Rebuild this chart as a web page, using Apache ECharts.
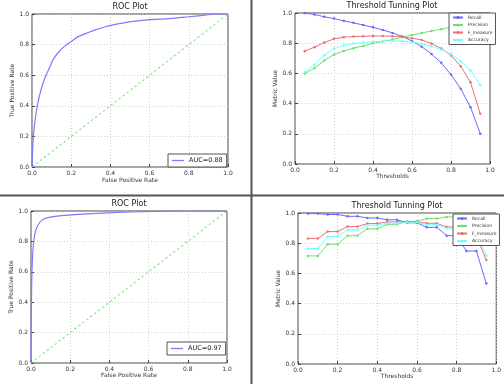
<!DOCTYPE html>
<html><head><meta charset="utf-8">
<script src="https://cdn.jsdelivr.net/npm/echarts@6/dist/echarts.min.js"></script>
<style>html,body{margin:0;padding:0;background:#fff}#c{width:504px;height:384px}</style>
</head><body><div id="c"></div>
<script>
// ---- data ----
const roc1Fpr = [0,0.003,0.007,0.015,0.027,0.045,0.068,0.09,0.107,0.135,0.167,0.2,0.235,0.28,0.32,0.37,0.42,0.48,0.54,0.6,0.7,0.8,0.9,0.93,1.0];
const roc1Tpr = [0,0.1,0.2,0.3,0.4,0.5,0.59,0.65,0.70,0.75,0.79,0.82,0.852,0.875,0.895,0.915,0.93,0.945,0.955,0.963,0.97,0.982,0.995,1.0,1.0];
const roc2Fpr = [0,0.001,0.002,0.005,0.008,0.012,0.022,0.036,0.056,0.087,0.155,0.24,0.39,0.55,0.75,1.0];
const roc2Tpr = [0,0.2,0.38,0.6,0.7,0.776,0.864,0.908,0.94,0.956,0.969,0.978,0.988,0.995,1.0,1.0];
const diagX = [0,1];
const diagY = [0,1];
const auc1Label = 'AUC=0.88';
const auc2Label = 'AUC=0.97';
const thresholds = [0.05,0.1,0.15,0.2,0.25,0.3,0.35,0.4,0.45,0.5,0.55,0.6,0.65,0.7,0.75,0.8,0.85,0.9,0.95];
const t1Recall    = [1.0,0.99,0.975,0.963,0.948,0.935,0.92,0.905,0.888,0.868,0.845,0.815,0.777,0.728,0.67,0.592,0.498,0.376,0.2];
const t1Precision = [0.6,0.635,0.686,0.725,0.749,0.767,0.782,0.8,0.811,0.824,0.84,0.855,0.868,0.881,0.892,0.908,0.92,0.935,0.95];
const t1Fmeasure  = [0.747,0.774,0.804,0.829,0.84,0.844,0.846,0.848,0.848,0.846,0.842,0.833,0.822,0.798,0.765,0.719,0.648,0.541,0.332];
const t1Accuracy  = [0.609,0.659,0.721,0.763,0.785,0.798,0.804,0.809,0.813,0.815,0.813,0.807,0.796,0.78,0.758,0.727,0.679,0.62,0.523];
const t2Recall    = [0.996,0.996,0.99,0.99,0.978,0.978,0.967,0.967,0.955,0.955,0.935,0.935,0.905,0.905,0.85,0.85,0.748,0.748,0.533];
const t2Precision = [0.716,0.716,0.793,0.793,0.85,0.85,0.895,0.895,0.925,0.925,0.945,0.945,0.963,0.963,0.974,0.974,0.982,0.982,0.989];
const t2Fmeasure  = [0.831,0.831,0.877,0.877,0.91,0.91,0.93,0.93,0.941,0.941,0.942,0.942,0.932,0.932,0.908,0.908,0.845,0.845,0.688];
const t2Accuracy  = [0.765,0.765,0.844,0.844,0.888,0.888,0.919,0.919,0.932,0.932,0.938,0.938,0.923,0.923,0.899,0.899,0.855,0.855,0.719];
const metricNames = ['Recall','Precision','F_measure','Accuracy'];
const tickLabels = ['0.0','0.2','0.4','0.6','0.8','1.0'];
const titles = ['ROC Plot','Threshold Tunning Plot','ROC Plot','Threshold Tunning Plot'];

// ---- build ----
const FONT = 'DejaVu Sans';
const zip = (xs, ys) => xs.map((x,i)=>[x, ys[i]]);
const fmt = v => tickLabels[Math.round(v/0.2)] || v.toFixed(1);
const grids = [
  {left:32, top:14, width:196, height:153},
  {left:295, top:13, width:195, height:151},
  {left:31, top:211, width:196, height:152},
  {left:298, top:213, width:199, height:151}
].map(g => Object.assign(g, {show:true, borderColor:'#444', borderWidth:1, backgroundColor:'#fff'}));

const xNames = ['False Positive Rate','Thresholds','False Positive Rate','Thresholds'];
const yNames = ['True Positive Rate','Metric Value','True Positive Rate','Metric Value'];
const xGaps = [10,8,8,8];
const yGaps = [14,12,14,13];
const axisCommon = {
  type:'value', min:0, max:1, interval:0.2,
  axisLine:{show:false},
  axisTick:{show:true, inside:true, length:3, lineStyle:{color:'#444'}},
  axisLabel:{formatter:fmt, fontSize:6, color:'#333', fontFamily:FONT, margin:3},
  splitLine:{show:true, lineStyle:{type:[1,2], color:'#c4c4c4', width:0.8}},
  nameLocation:'middle', nameTextStyle:{fontSize:6, color:'#333', fontFamily:FONT}
};
const xAxis = [0,1,2,3].map(i => Object.assign({}, axisCommon, {gridIndex:i, name:xNames[i], nameGap:xGaps[i]}));
const yAxis = [0,1,2,3].map(i => Object.assign({}, axisCommon, {gridIndex:i, name:yNames[i], nameGap:yGaps[i]}));

const colors = {Recall:'#6a6aff', Precision:'#6fe06f', F_measure:'#f07070', Accuracy:'#70ffff'};
const series = [];
function roc(i, fpr, tpr, name){
  series.push({type:'line', name:name, xAxisIndex:i, yAxisIndex:i, data:zip(fpr,tpr), symbol:'none', smooth:0.3,
    lineStyle:{color:'#7b7bff', width:1.2}, itemStyle:{color:'#7b7bff'}, z:3});
  series.push({type:'line', name:'diag'+i, xAxisIndex:i, yAxisIndex:i, data:zip(diagX,diagY), symbol:'none',
    lineStyle:{color:'#80ea80', width:1.1, type:[2.5,2.5]}, z:2});
}
roc(0, roc1Fpr, roc1Tpr, auc1Label);
roc(2, roc2Fpr, roc2Tpr, auc2Label);
function thr(i, arrs){
  metricNames.forEach((n,k)=>{
    series.push({type:'line', name:n, xAxisIndex:i, yAxisIndex:i, data:zip(thresholds, arrs[k]),
      symbol:'circle', symbolSize:2.5, lineStyle:{color:colors[n], width:1}, itemStyle:{color:colors[n]}, z:3});
  });
}
thr(1, [t1Recall,t1Precision,t1Fmeasure,t1Accuracy]);
thr(3, [t2Recall,t2Precision,t2Fmeasure,t2Accuracy]);

const titleCenters = [[130,3],[392,2],[129,200],[397,202]];
const title = titles.map((t,i)=>({text:t, left:titleCenters[i][0], top:titleCenters[i][1], textAlign:'center', padding:0,
  textStyle:{fontSize:8, fontWeight:'normal', color:'#222', fontFamily:FONT}}));

const legendBase = {backgroundColor:'#fff', borderColor:'#555', borderWidth:1, borderRadius:0, z:10};
const legend = [
  Object.assign({}, legendBase, {data:[{name:auc1Label, icon:'rect'}], left:168, top:154, padding:[3,4,3,4], itemWidth:12, itemHeight:1.3, itemGap:2,
    textStyle:{fontSize:6.5, color:'#222', fontFamily:FONT}}),
  Object.assign({}, legendBase, {data:[{name:auc2Label, icon:'rect'}], left:167, top:342, padding:[3,4,3,4], itemWidth:12, itemHeight:1.3, itemGap:2,
    textStyle:{fontSize:6.5, color:'#222', fontFamily:FONT}}),
  Object.assign({}, legendBase, {data:metricNames, orient:'vertical', left:449, top:13, padding:[2,3,2,3], itemWidth:10, itemHeight:4, itemGap:2.5,
    textStyle:{fontSize:4.5, color:'#333', fontFamily:FONT}}),
  Object.assign({}, legendBase, {data:metricNames, orient:'vertical', left:453, top:214, padding:[2,3,2,3], itemWidth:10, itemHeight:4, itemGap:2.5,
    textStyle:{fontSize:4.5, color:'#333', fontFamily:FONT}})
];

const chart = echarts.init(document.getElementById('c'), null, {renderer:'canvas'});
chart.setOption({
  animation:false, backgroundColor:'#fff',
  title, legend, grid:grids, xAxis, yAxis, series,
  graphic:[
    {type:'line', shape:{x1:251.5,y1:0,x2:251.5,y2:384}, style:{stroke:'#555', lineWidth:2}, z:100},
    {type:'line', shape:{x1:0,y1:195.5,x2:504,y2:195.5}, style:{stroke:'#555', lineWidth:2}, z:100}
  ]
});
</script></body></html>
